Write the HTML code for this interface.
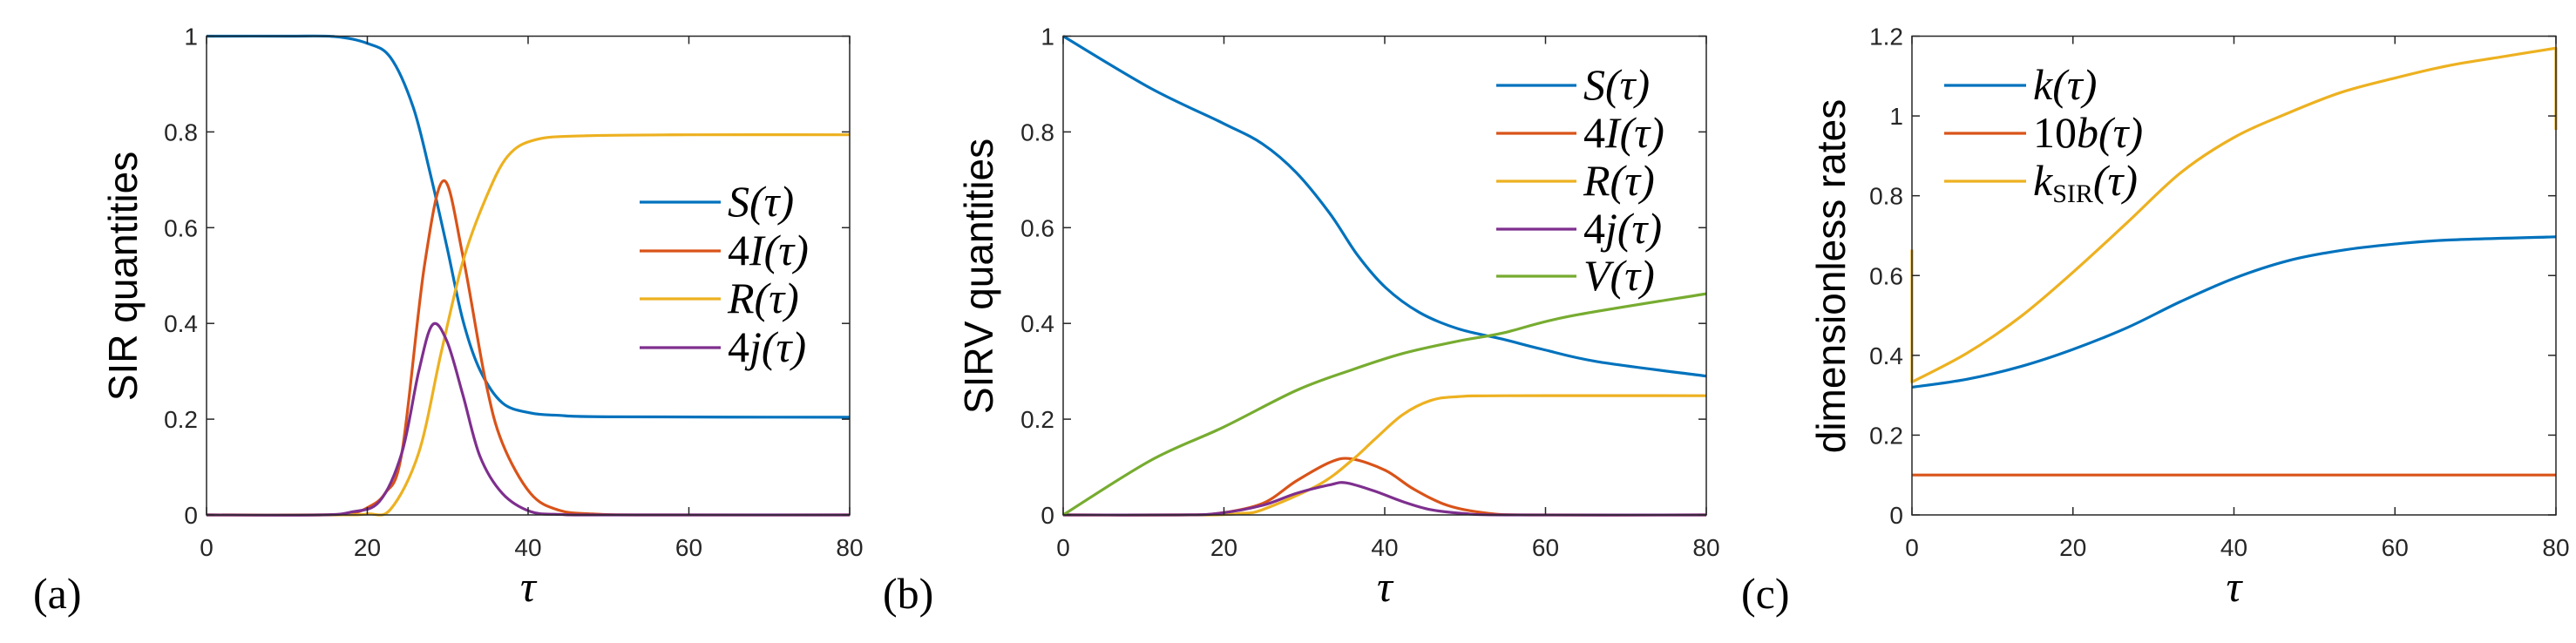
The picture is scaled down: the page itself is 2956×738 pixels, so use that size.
<!DOCTYPE html>
<html><head><meta charset="utf-8">
<style>
html,body{margin:0;padding:0;background:#fff;}
svg{display:block;}
.tick{font-family:"Liberation Sans",sans-serif;font-size:28px;fill:#262626;}
.ylab{font-family:"Liberation Sans",sans-serif;font-size:46px;fill:#000;}
.math{font-family:"Liberation Serif",serif;font-style:italic;font-size:50px;fill:#000;}
.plab{font-family:"Liberation Serif",serif;font-size:50px;fill:#000;}
</style></head>
<body>
<svg id="fig" width="2956" height="738" viewBox="0 0 2956 738" xmlns="http://www.w3.org/2000/svg"></svg>
<script>
// ---- Panel (a) data ----
const aS_t=[0,10,16,20,22.9,25.7,27.8,29.9,31.9,34,36.8,40.3,43.8,50,80];
const aS_v=[1,1,0.999,0.985,0.955,0.852,0.715,0.56,0.406,0.303,0.234,0.213,0.208,0.205,0.204];
const aI_t=[0,14,18,20,22.2,24.3,27.1,29.5,31.9,34.7,36.8,40.3,43.8,48,55,80];
const aI_v=[0,0,0.004,0.015,0.045,0.13,0.52,0.698,0.54,0.28,0.15,0.045,0.01,0.002,0,0];
const aR_t=[0,16,20,22.9,26.4,29.2,31.9,34.7,37.5,41,47.2,60,80];
const aR_v=[0,0,0.002,0.012,0.13,0.34,0.53,0.66,0.75,0.784,0.792,0.794,0.794];
const aJ_t=[0,14,18,21.5,24.3,26.4,28.1,29.9,31.9,34,36.8,40.3,44,50,80];
const aJ_v=[0,0,0.006,0.028,0.13,0.30,0.397,0.363,0.25,0.123,0.045,0.007,0.001,0,0];
// ---- Panel (b) data ----
const bS_t=[0,10.9,19.9,24.8,29,33.2,36.6,40.1,44.3,49.1,54.7,59.6,66.5,80];
const bS_v=[1,0.891,0.818,0.775,0.715,0.629,0.543,0.475,0.423,0.389,0.367,0.346,0.32,0.29];
const bV_t=[0,10.9,19.9,29,35.9,42.2,49.1,54.7,63,80];
const bV_v=[0,0.114,0.183,0.26,0.303,0.337,0.363,0.38,0.415,0.462];
const bR_t=[0,18,22,24.8,31.8,35.9,38.7,42.2,45.7,49.1,55,80];
const bR_v=[0,0,0.003,0.011,0.063,0.114,0.157,0.209,0.239,0.247,0.249,0.249];
const bI_t=[0,14,19.2,24.8,29,33.2,35.9,40.1,43.6,47.8,52.6,58,80];
const bI_v=[0,0,0.003,0.024,0.071,0.11,0.117,0.093,0.054,0.02,0.004,0,0];
const bJ_t=[0,14,19.2,24.8,29,33.2,35.2,38.7,42.2,45.7,49.8,55,80];
const bJ_v=[0,0,0.003,0.02,0.045,0.063,0.067,0.05,0.028,0.011,0.003,0,0];
// ---- Panel (c) data ----
const cK_t=[0,6.8,13.5,20,26.8,33.4,40,46.7,53.3,60,66.6,80];
const cK_v=[0.32,0.34,0.372,0.415,0.47,0.535,0.593,0.637,0.663,0.679,0.689,0.697];
const cB_t=[0,80];
const cB_v=[0.1,0.1];
const cKs_t=[0,0,6.8,13.5,20.1,26.8,33.4,40,46.7,53.3,60,66.6,73.2,80,80];
const cKs_v=[0.665,0.333,0.405,0.497,0.61,0.734,0.858,0.946,1.007,1.059,1.095,1.126,1.148,1.17,0.965];
const xTicks=[0,20,40,60,80];
const yTicksAB=[0,0.2,0.4,0.6,0.8,1];
const yTickLabAB=["0","0.2","0.4","0.6","0.8","1"];
const yTicksC=[0,0.2,0.4,0.6,0.8,1,1.2];
const yTickLabC=["0","0.2","0.4","0.6","0.8","1","1.2"];

const C={blue:"#0072BD",red:"#D95319",yel:"#EDB120",pur:"#7E2F8E",grn:"#77AC30"};
const NS="http://www.w3.org/2000/svg";
const svg=document.getElementById('fig');
function mk(tag,attrs,parent){const e=document.createElementNS(NS,tag);for(const k in attrs)e.setAttribute(k,attrs[k]);(parent||svg).appendChild(e);return e;}

function pathD(pts){
  let d="M"+pts[0][0].toFixed(2)+","+pts[0][1].toFixed(2);
  for(let i=0;i<pts.length-1;i++){
    const p0=pts[Math.max(i-1,0)],p1=pts[i],p2=pts[i+1],p3=pts[Math.min(i+2,pts.length-1)];
    if(Math.abs(p2[0]-p1[0])<0.01){d+="L"+p2[0].toFixed(2)+","+p2[1].toFixed(2);continue;}
    let q0=p0,q3=p3;
    if(Math.abs(p1[0]-p0[0])<0.01)q0=p1;
    if(Math.abs(p3[0]-p2[0])<0.01)q3=p2;
    const c1=[p1[0]+(p2[0]-q0[0])/6,p1[1]+(p2[1]-q0[1])/6];
    const c2=[p2[0]-(q3[0]-p1[0])/6,p2[1]-(q3[1]-p1[1])/6];
    d+="C"+c1[0].toFixed(2)+","+c1[1].toFixed(2)+" "+c2[0].toFixed(2)+","+c2[1].toFixed(2)+" "+p2[0].toFixed(2)+","+p2[1].toFixed(2);
  }
  return d;
}

function panel(cfg){
  const g=mk('g',{});
  
  
  const L=cfg.L,R=cfg.R,T=41.5,B=591;
  const xs=v=>L+(v-0)/80*(R-L);
  const ys=v=>B-(v/cfg.ymax)*(B-T);
  cfg.series.forEach(s=>{
    const pts=s.t.map((t,i)=>[xs(t),ys(s.v[i])]);
    const p=mk('path',{d:pathD(pts),fill:"none",stroke:s.c,"stroke-width":3.2,"stroke-linejoin":"round"},g);
    
    
  });
  const box=mk('rect',{x:L,y:T,width:R-L,height:B-T,fill:"none",stroke:"#262626","stroke-width":1.5},g);
  
  
  xTicks.forEach(v=>{
    const x=xs(v);
    mk('line',{x1:x,y1:B,x2:x,y2:B-9,stroke:"#262626","stroke-width":1.5},g);
    mk('line',{x1:x,y1:T,x2:x,y2:T+9,stroke:"#262626","stroke-width":1.5},g);
    const tx=mk('text',{x:x,y:638,"text-anchor":"middle",class:"tick"},g);
    tx.textContent=String(v);
    
    
  });
  cfg.yt.forEach((v,i)=>{
    const y=ys(v);
    mk('line',{x1:L,y1:y,x2:L+9,y2:y,stroke:"#262626","stroke-width":1.5},g);
    mk('line',{x1:R,y1:y,x2:R-9,y2:y,stroke:"#262626","stroke-width":1.5},g);
    const tx=mk('text',{x:L-10,y:y+10,"text-anchor":"end",class:"tick"},g);
    tx.textContent=cfg.ytl[i];
    
    
  });
  const yl=mk('text',{x:0,y:0,"text-anchor":"middle",class:"ylab",transform:`translate(${cfg.ylx},${cfg.yly}) rotate(-90)`},g);
  yl.textContent=cfg.ylab;
  
  
  const xl=mk('text',{x:(L+R)/2,y:690,"text-anchor":"middle",class:"math"},g);
  xl.textContent="τ";
  
  
  const pl=mk('text',{x:cfg.plx,y:698,class:"plab"},g);
  pl.textContent=cfg.plab;
  
  
  cfg.legend.forEach((e,i)=>{
    const y=cfg.legY[i];
    const lg=mk('g',{},g);
    
    
    mk('line',{x1:cfg.lx1,y1:y,x2:cfg.lx2,y2:y,stroke:e.c,"stroke-width":3.2},lg);
    const t=mk('text',{x:cfg.lx2+8,y:y+16,class:"math"},lg);
    t.innerHTML=e.label;
  });
}

panel({name:"panel-a-sir",L:237,R:975,ymax:1,yt:yTicksAB,ytl:yTickLabAB,ylab:"SIR quantities",ylx:157,yly:317,plx:38,plab:"(a)",
  series:[{t:aS_t,v:aS_v,c:C.blue,n:"S"},{t:aI_t,v:aI_v,c:C.red,n:"4I"},{t:aR_t,v:aR_v,c:C.yel,n:"R"},{t:aJ_t,v:aJ_v,c:C.pur,n:"4j"}],
  lx1:734,lx2:827,legY:[232,288,343,399],
  legend:[{c:C.blue,label:'S(τ)'},{c:C.red,label:'<tspan font-style="normal">4</tspan>I(τ)'},{c:C.yel,label:'R(τ)'},{c:C.pur,label:'<tspan font-style="normal">4</tspan>j(τ)'}]});

panel({name:"panel-b-sirv",L:1220,R:1958,ymax:1,yt:yTicksAB,ytl:yTickLabAB,ylab:"SIRV quantities",ylx:1139,yly:317,plx:1013,plab:"(b)",
  series:[{t:bS_t,v:bS_v,c:C.blue,n:"S"},{t:bI_t,v:bI_v,c:C.red,n:"4I"},{t:bR_t,v:bR_v,c:C.yel,n:"R"},{t:bJ_t,v:bJ_v,c:C.pur,n:"4j"},{t:bV_t,v:bV_v,c:C.grn,n:"V"}],
  lx1:1717,lx2:1809,legY:[98,153,208,263,317],
  legend:[{c:C.blue,label:'S(τ)'},{c:C.red,label:'<tspan font-style="normal">4</tspan>I(τ)'},{c:C.yel,label:'R(τ)'},{c:C.pur,label:'<tspan font-style="normal">4</tspan>j(τ)'},{c:C.grn,label:'V(τ)'}]});

panel({name:"panel-c-rates",L:2194,R:2933,ymax:1.2,yt:yTicksC,ytl:yTickLabC,ylab:"dimensionless rates",ylx:2117,yly:317,plx:1998,plab:"(c)",
  series:[{t:cK_t,v:cK_v,c:C.blue,n:"k"},{t:cB_t,v:cB_v,c:C.red,n:"10b"},{t:cKs_t,v:cKs_v,c:C.yel,n:"ksir"}],
  lx1:2231,lx2:2325,legY:[98,153,208],
  legend:[{c:C.blue,label:'k(τ)'},{c:C.red,label:'<tspan font-style="normal">10</tspan>b(τ)'},{c:C.yel,label:'k<tspan font-style="normal" font-size="30" dy="8">SIR</tspan><tspan dy="-8">(τ)</tspan>'}]});
</script>
</body></html>
